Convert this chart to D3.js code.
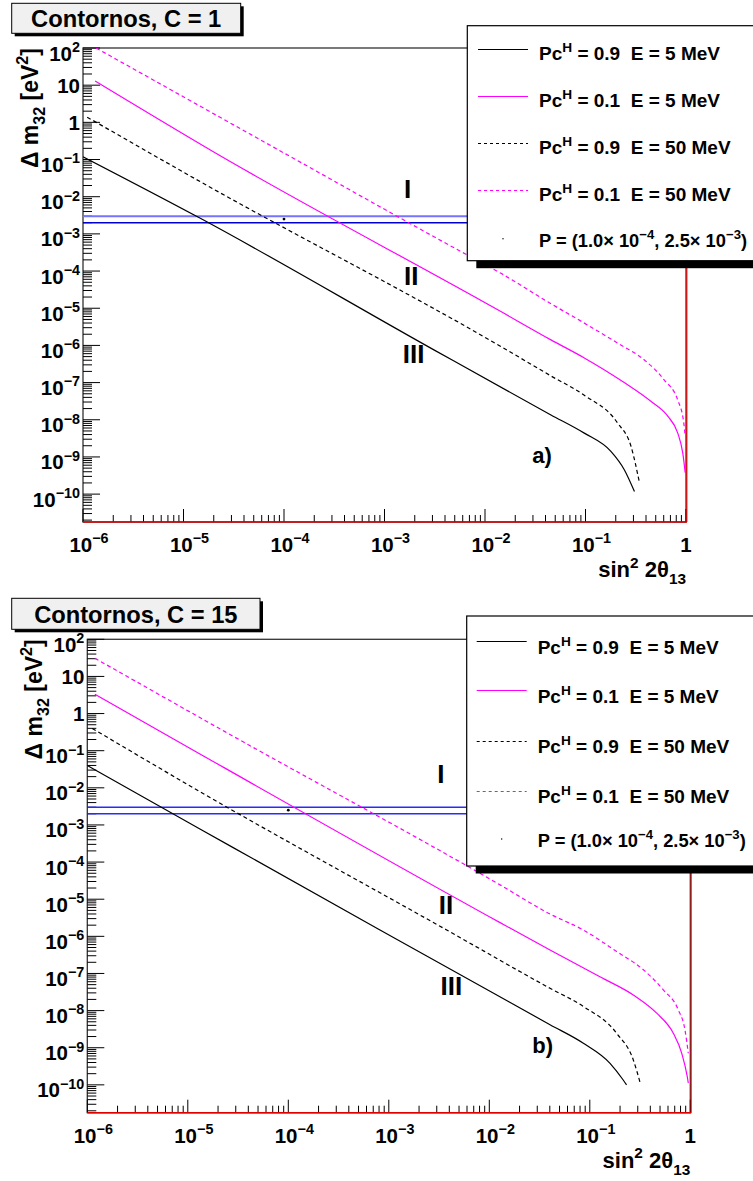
<!DOCTYPE html>
<html><head><meta charset="utf-8">
<script src="https://cdn.jsdelivr.net/npm/d3@7"></script>
<style>
body{margin:0;background:#fff}
svg{display:block}
text{font-family:"Liberation Sans",Arial,Helvetica,sans-serif;font-weight:bold;fill:#000;white-space:pre}
</style>
</head><body>
<svg id="c" width="753" height="1181"></svg>
<script>
// ---------------- DATA ----------------
const xTickValues = [1e-6, 1e-5, 1e-4, 1e-3, 1e-2, 1e-1, 1];
const xTickLabels = ["10^{−6}", "10^{−5}", "10^{−4}", "10^{−3}", "10^{−2}", "10^{−1}", "1"];
const yTickValues = [1e2, 1e1, 1, 1e-1, 1e-2, 1e-3, 1e-4, 1e-5, 1e-6, 1e-7, 1e-8, 1e-9, 1e-10];
const yTickLabels = ["10^{2}", "10", "1", "10^{−1}", "10^{−2}", "10^{−3}", "10^{−4}", "10^{−5}", "10^{−6}", "10^{−7}", "10^{−8}", "10^{−9}", "10^{−10}"];

const legendLabels = [
  "Pc^{H} = 0.9  E = 5 MeV",
  "Pc^{H} = 0.1  E = 5 MeV",
  "Pc^{H} = 0.9  E = 50 MeV",
  "Pc^{H} = 0.1  E = 50 MeV",
  "P = (1.0× 10^{−4}, 2.5× 10^{−3})"
];

// horizontal band of Δm²32 (eV²) and the marked point P
const dm2Lines = [3.0e-3, 2.0e-3];
const pointP = [1.0e-4, 2.5e-3];

// panel a) C = 1   — [sin²2θ13, Δm²32]
const a_pc09_e5 = [[1.0e-6,0.119],[1.47e-5,2.63e-3],[3.10e-3,7.59e-7],[4.53e-2,1.35e-8],[9.73e-2,4.37e-9],[0.179,1.41e-9],[0.244,4.47e-10],[0.307,1.17e-10]];
const a_pc01_e5 = [[1.32e-6,12.9],[1.85e-5,0.180],[1.44e-2,8.13e-6],[4.53e-2,1.41e-6],[9.73e-2,4.6e-7],[0.234,1.07e-7],[0.450,3.09e-8],[0.661,1.23e-8],[0.828,4.37e-9],[0.929,1.26e-9],[0.982,3.80e-10]];
const a_pc09_e50 = [[1.10e-6,1.38],[1.47e-5,2.53e-2],[1.44e-2,9.33e-7],[4.53e-2,1.51e-7],[9.73e-2,4.57e-8],[0.209,8.13e-9],[0.284,1.91e-9],[0.344,2.04e-10]];
const a_pc01_e50 = [[1.35e-6,100],[8.85e-5,0.180],[6.68e-3,2.69e-4],[1.44e-2,8.71e-5],[4.53e-2,1.32e-5],[9.73e-2,3.98e-6],[0.209,1.15e-6],[0.385,4.07e-7],[0.608,1.17e-7],[0.828,3.39e-8],[0.951,8.13e-9],[0.982,3.55e-9]];

// panel b) C = 15
const b_pc09_e5 = [[1.0e-6,3.98e-2],[1.32e-5,7.82e-4],[8.17e-4,1.48e-6],[4.02e-2,4.17e-9],[8.63e-2,1.32e-9],[0.159,3.80e-10],[0.215,1.35e-10],[0.232,1.0e-10]];
const b_pc01_e5 = [[1.19e-6,3.31],[1.32e-5,8.17e-2],[1.28e-2,2.34e-6],[4.02e-2,4.27e-7],[0.126,8.13e-8],[0.271,2.63e-8],[0.463,8.51e-9],[0.678,2.45e-9],[0.822,7.08e-10],[0.933,1.66e-10],[0.955,1.12e-10]];
const b_pc09_e50 = [[1.12e-6,0.398],[1.32e-5,7.89e-3],[3.77e-3,1.48e-6],[4.02e-2,3.98e-8],[8.63e-2,1.29e-8],[0.185,2.45e-9],[0.271,4.68e-10],[0.316,1.17e-10]];
const b_pc01_e50 = [[1.19e-6,30.9],[2.34e-5,0.326],[1.28e-2,2.43e-5],[4.02e-2,3.98e-6],[8.63e-2,1.48e-6],[0.185,3.89e-7],[0.341,1.26e-7],[0.538,3.63e-8],[0.759,1.05e-8],[0.885,3.02e-9],[0.955,7.08e-10]];

const regionLabels = ["I", "II", "III"];

// ---------------- LAYOUT ----------------
const TICKFONT = 20.5;
const panels = [
  {
    left: 83, top: 48, width: 603, height: 474,
    title: "Contornos, C = 1", tbox: {x: 11.7, y: 3.3, w: 229, h: 30},
    curves: [a_pc09_e5, a_pc01_e5, a_pc09_e50, a_pc01_e50],
    bandColors: ["#7474ff", "#0000d0"], bandWidths: [2, 1.5],
    regionPos: [[1.7e-3, 9.1e-3], [1.85e-3, 4.2e-5], [1.95e-3, 3.4e-7]],
    tag: "a)", tagPos: [3.7e-2, 6.9e-10],
    legend: {x: 467.3, y: 25.7, h: 235, baselines: [60, 107.3, 154, 200.7, 246.7], lineY: [49.5, 96.5, 143.5, 190.5], textX: 539, lx1: 478, lx2: 528},
    ytitleX: 38
  },
  {
    left: 87.3, top: 639.3, width: 603, height: 473.4,
    title: "Contornos, C = 15", tbox: {x: 11.7, y: 598.3, w: 248.3, h: 31},
    curves: [b_pc09_e5, b_pc01_e5, b_pc09_e50, b_pc01_e50],
    bandColors: ["#2a2aff", "#2a2aff"], bandWidths: [1.5, 1.5],
    regionPos: [[3.3e-3, 1.38e-2], [3.7e-3, 3.96e-6], [4.2e-3, 2.6e-8]],
    tag: "b)", tagPos: [3.4e-2, 7.3e-10],
    legend: {x: 466.7, y: 616, h: 250, baselines: [653.5, 703, 753, 803, 847], lineY: [641.5, 690.5, 741.5, 791.5], textX: 537.7, lx1: 476.7, lx2: 526.7},
    ytitleX: 42
  }
];
const curveStyles = [
  {color: "#000000", dash: null},
  {color: "#ff00ff", dash: null},
  {color: "#000000", dash: "4,3"},
  {color: "#ff00ff", dash: "4,3"}
];

const svg = d3.select("#c");

function rich(g, x, y, str, size, anchor, supScale) {
  const ss = supScale || 0.7;
  const t = g.append("text").attr("x", x).attr("y", y).attr("font-size", size)
    .attr("text-anchor", anchor || "start");
  const parts = str.split(/(\^\{[^}]*\}|_\{[^}]*\})/).filter(p => p.length);
  let cur = 0;
  parts.forEach(p => {
    let target = 0, fs = size, txt = p;
    if (p.startsWith("^{")) { target = -size * 0.42; fs = size * ss; txt = p.slice(2, -1); }
    else if (p.startsWith("_{")) { target = size * 0.32; fs = size * ss; txt = p.slice(2, -1); }
    t.append("tspan").attr("dy", target - cur).attr("font-size", fs).text(txt);
    cur = target;
  });
  return t;
}

panels.forEach((P, pi) => {
  const g = svg.append("g");
  const x = d3.scaleLog().domain([1e-6, 1]).range([P.left, P.left + P.width]);
  const y = d3.scaleLog().domain([Math.pow(10, -10.75), 100]).range([P.top + P.height, P.top]);
  const clipId = "clip" + pi;
  g.append("clipPath").attr("id", clipId).append("rect")
    .attr("x", P.left).attr("y", P.top).attr("width", P.width).attr("height", P.height);

  // frame
  g.append("rect").attr("x", P.left).attr("y", P.top).attr("width", P.width).attr("height", P.height)
    .attr("fill", "#fff").attr("stroke", "#333").attr("stroke-width", 1.3);

  // y ticks
  const yMinor = [];
  for (let e = -11; e <= 1; e++) for (let k = 2; k <= 9; k++) {
    const v = k * Math.pow(10, e);
    if (v >= y.domain()[0] && v <= 100) yMinor.push(v);
  }
  g.selectAll(null).data(yMinor).join("line")
    .attr("x1", P.left).attr("x2", P.left + 9)
    .attr("y1", d => y(d)).attr("y2", d => y(d)).attr("stroke", "#000").attr("stroke-width", 1);
  g.selectAll(null).data(yTickValues).join("line")
    .attr("x1", P.left).attr("x2", P.left + 17)
    .attr("y1", d => y(d)).attr("y2", d => y(d)).attr("stroke", "#000").attr("stroke-width", 1);
  yTickValues.forEach((v, i) => {
    const lab = yTickLabels[i];
    const off = lab.includes("^") ? 12.5 : 7.5;
    rich(g, P.left - 3, y(v) + off, lab, TICKFONT, "end");
  });

  // x ticks
  const xMinor = [];
  for (let e = -6; e < 0; e++) for (let k = 2; k <= 9; k++) xMinor.push(k * Math.pow(10, e));
  g.selectAll(null).data(xMinor).join("line")
    .attr("x1", d => x(d)).attr("x2", d => x(d))
    .attr("y1", P.top + P.height).attr("y2", P.top + P.height - 7).attr("stroke", "#000").attr("stroke-width", 1);
  g.selectAll(null).data(xTickValues).join("line")
    .attr("x1", d => x(d)).attr("x2", d => x(d))
    .attr("y1", P.top + P.height).attr("y2", P.top + P.height - 13).attr("stroke", "#000").attr("stroke-width", 1);
  xTickValues.forEach((v, i) => {
    rich(g, x(v) + (xTickLabels[i] === "1" ? 0 : 6), P.top + P.height + 30, xTickLabels[i], TICKFONT, "middle");
  });

  // red edges
  g.append("line").attr("x1", P.left).attr("x2", P.left + P.width + 1)
    .attr("y1", P.top + P.height).attr("y2", P.top + P.height).attr("stroke", "#e00000").attr("stroke-width", 1.6);
  g.append("line").attr("x1", P.left + P.width + 0.8).attr("x2", P.left + P.width + 0.8)
    .attr("y1", P.top + 200).attr("y2", P.top + P.height).attr("stroke", "#e00000").attr("stroke-width", 1.2);

  const plot = g.append("g").attr("clip-path", `url(#${clipId})`);
  // band lines
  dm2Lines.forEach((v, i) => {
    plot.append("line").attr("x1", P.left).attr("x2", P.left + P.width)
      .attr("y1", y(v)).attr("y2", y(v)).attr("stroke", P.bandColors[i]).attr("stroke-width", P.bandWidths[i]);
  });
  // curves
  const line = d3.line().x(d => x(d[0])).y(d => y(d[1])).curve(d3.curveMonotoneX);
  P.curves.forEach((c, i) => {
    plot.append("path").datum(c).attr("d", line).attr("fill", "none")
      .attr("stroke", curveStyles[i].color).attr("stroke-width", 1.2)
      .attr("stroke-dasharray", curveStyles[i].dash);
  });
  // point P
  plot.append("circle").attr("cx", x(pointP[0])).attr("cy", y(pointP[1])).attr("r", 1.4).attr("fill", "#000");

  // region labels
  regionLabels.forEach((r, i) => {
    g.append("text").attr("x", x(P.regionPos[i][0])).attr("y", y(P.regionPos[i][1]))
      .attr("text-anchor", "middle").attr("font-size", 26).text(r);
  });
  g.append("text").attr("x", x(P.tagPos[0])).attr("y", y(P.tagPos[1]))
    .attr("text-anchor", "middle").attr("font-size", 22).text(P.tag);

  // axis titles
  rich(g, P.left + P.width, P.top + P.height + 55, "sin^{2} 2θ_{13}", 22, "end");
  const yt = g.append("g").attr("transform", `translate(${P.ytitleX},${P.top}) rotate(-90)`);
  rich(yt, 0, 0, "Δ m_{32} [eV^{2}]", 23, "end");

  // legend
  const L = P.legend;
  g.append("rect").attr("x", L.x + 9).attr("y", L.y + L.h).attr("width", 753 - L.x).attr("height", 7.5).attr("fill", "#000");
  g.append("rect").attr("x", L.x).attr("y", L.y).attr("width", 753 - L.x + 10).attr("height", L.h)
    .attr("fill", "#fff").attr("stroke", "#000").attr("stroke-width", 1.2);
  legendLabels.forEach((lab, i) => {
    const by = L.baselines[i];
    if (i < 4) {
      g.append("line").attr("x1", L.lx1).attr("x2", L.lx2).attr("y1", L.lineY[i]).attr("y2", L.lineY[i])
        .attr("stroke", curveStyles[i].color).attr("stroke-width", 1)
        .attr("stroke-dasharray", curveStyles[i].dash ? "3,3" : null);
    } else {
      g.append("circle").attr("cx", (L.lx1 + L.lx2) / 2).attr("cy", by - 8).attr("r", 0.7).attr("fill", "#000");
    }
    rich(g, L.textX, by, lab, i < 4 ? 19 : 18.3, "start", 0.72);
  });

  // title box
  const T = P.tbox;
  g.append("rect").attr("x", T.x + 3).attr("y", T.y + 3).attr("width", T.w).attr("height", T.h).attr("fill", "#000");
  g.append("rect").attr("x", T.x).attr("y", T.y).attr("width", T.w).attr("height", T.h)
    .attr("fill", "#f0f0f0").attr("stroke", "#000").attr("stroke-width", 1);
  g.append("text").attr("x", T.x + T.w / 2).attr("y", T.y + T.h - 6.5).attr("text-anchor", "middle")
    .attr("font-size", 23.7).text(P.title);
});
</script>
</body></html>
